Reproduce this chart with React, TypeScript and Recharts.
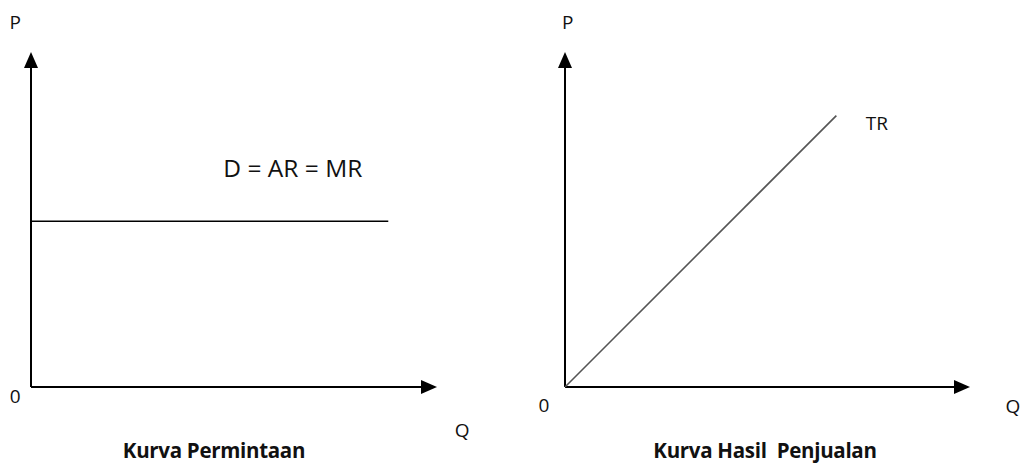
import { LineChart, Line, XAxis, YAxis, ReferenceDot, ReferenceLine } from 'recharts'

// Left panel: flat demand curve at a constant price
const demandData = [
  { q: 0, p: 49.5 },
  { q: 88, p: 49.5 },
]

// Right panel: total revenue rising from the origin
const revenueData = [
  { q: 0, tr: 0 },
  { q: 67, tr: 81 },
]

// Text placed in data units of each panel (0..100 on both axes)
const demandNotes = [
  { x: -3.9, y: 109, text: 'P' },
  { x: -3.9, y: -2.7, text: '0' },
  { x: 106.2, y: -12.8, text: 'Q' },
  { x: 64.5, y: 65.4, text: 'D = AR = MR', big: true },
]
const revenueNotes = [
  { x: 0.7, y: 109, text: 'P' },
  { x: -5.2, y: -5.4, text: '0' },
  { x: 110.6, y: -5.7, text: 'Q' },
  { x: 77, y: 78.8, text: 'TR' },
]

const titles = ['Kurva Permintaan', 'Kurva Hasil\u00a0 Penjualan']

const FONT = '"Open Sans", "Noto Sans", sans-serif'
const W = 516
const H = 464

const ArrowHead = (dir: 'up' | 'right') => (props: any) => {
  const { cx, cy } = props
  const pts = dir === 'right'
    ? `${cx},${cy} ${cx - 16},${cy - 7} ${cx - 16},${cy + 7}`
    : `${cx},${cy} ${cx - 7},${cy + 16} ${cx + 7},${cy + 16}`
  return <polygon points={pts} fill="#000" />
}

const Note = (text: string, big?: boolean) => (props: any) => (
  <text
    x={props.cx}
    y={props.cy}
    textAnchor="middle"
    dominantBaseline="central"
    fontFamily={FONT}
    fontSize={big ? 24.5 : 19}
    fill="#111"
  >
    {text}
  </text>
)

function Panel({ data, yKey, color, notes, margin, title, titleX }: any) {
  return (
    <div style={{ position: 'relative', width: W, height: H }}>
      <LineChart width={W} height={H} data={data} margin={margin}>
        <XAxis dataKey="q" type="number" domain={[0, 100]} hide />
        <YAxis type="number" domain={[0, 100]} hide />
        {/* axes with arrowheads */}
        <ReferenceLine segment={[{ x: 0, y: 0 }, { x: 99, y: 0 }]} stroke="#000" strokeWidth={2} ifOverflow="visible" />
        <ReferenceLine segment={[{ x: 0, y: 0 }, { x: 0, y: 99 }]} stroke="#000" strokeWidth={2} ifOverflow="visible" />
        <ReferenceDot x={100} y={0} r={0} ifOverflow="visible" shape={ArrowHead('right')} />
        <ReferenceDot x={0} y={100} r={0} ifOverflow="visible" shape={ArrowHead('up')} />
        <Line
          type="linear" dataKey={yKey} stroke={color} strokeWidth={1.6}
          dot={false} isAnimationActive={false}
        />
        {notes.map((n: any) => (
          <ReferenceDot
            key={n.text} x={n.x} y={n.y} r={0} ifOverflow="visible"
            shape={Note(n.text, n.big)}
          />
        ))}
      </LineChart>
      <div
        style={{
          position: 'absolute', top: 436, left: titleX - 150, width: 300,
          textAlign: 'center', fontFamily: FONT, fontWeight: 700, fontSize: 20.5,
          letterSpacing: -0.3, color: '#111', whiteSpace: 'pre',
        }}
      >
        {title}
      </div>
    </div>
  )
}

export default function App() {
  return (
    <div style={{ position: 'absolute', left: 0, top: 0, width: 1032, height: 464, background: '#fff', display: 'flex' }}>
      <Panel
        data={demandData} yKey="p" color="#000" notes={demandNotes}
        margin={{ top: 52, left: 31, right: W - 437, bottom: H - 387 }}
        title={titles[0]} titleX={214}
      />
      <Panel
        data={revenueData} yKey="tr" color="#555" notes={revenueNotes}
        margin={{ top: 52, left: 565 - W, right: 1032 - 970, bottom: H - 387 }}
        title={titles[1]} titleX={765 - W}
      />
    </div>
  )
}
